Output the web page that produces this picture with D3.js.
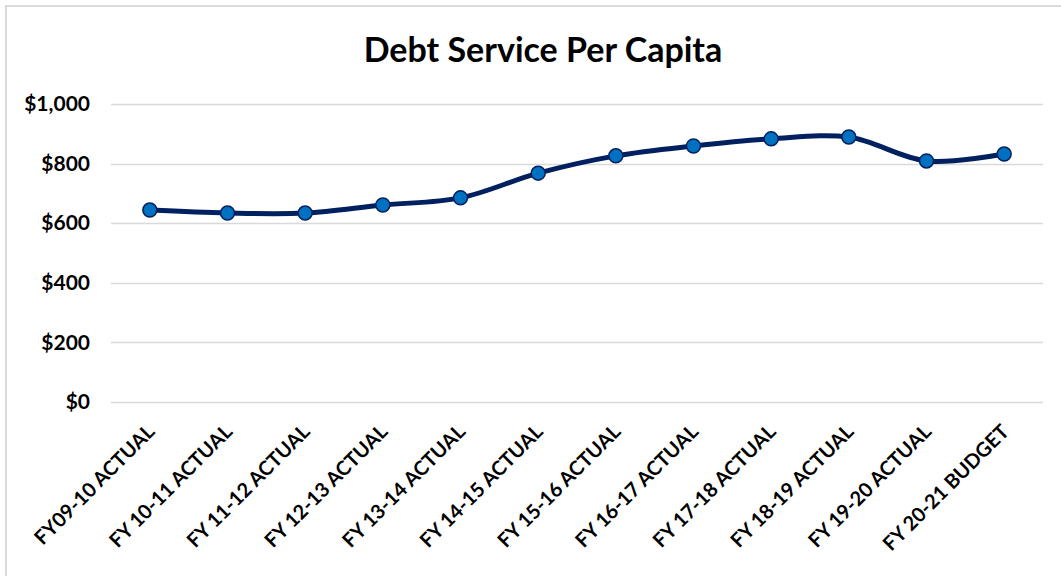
<!DOCTYPE html>
<html>
<head>
<meta charset="utf-8">
<script src="https://cdn.jsdelivr.net/npm/d3@7"></script>
<style>
  body { margin: 0; background: #fff; }
  text { font-family: Lato, "Open Sans", sans-serif; font-weight: bold; fill: #000; }
</style>
</head>
<body>
<script>
// chart data
var categories = ["FY09-10 ACTUAL", "FY 10-11 ACTUAL", "FY 11-12 ACTUAL", "FY 12-13 ACTUAL",
  "FY 13-14 ACTUAL", "FY 14-15 ACTUAL", "FY 15-16 ACTUAL", "FY 16-17 ACTUAL",
  "FY 17-18 ACTUAL", "FY 18-19 ACTUAL", "FY 19-20 ACTUAL", "FY 20-21 BUDGET"];
var values = [644, 634, 634, 661, 685, 768, 826, 859, 883, 889, 809, 832];
var yTicks = [0, 200, 400, 600, 800, 1000];
var title = "Debt Service Per Capita";

var width = 1061, height = 576;
var margin = {top: 104, right: 18, bottom: 174, left: 111};

var svg = d3.select("body").append("svg")
  .attr("width", width)
  .attr("height", height);

// outer chart border
svg.append("rect")
  .attr("x", 6).attr("y", 6)
  .attr("width", width + 10).attr("height", height + 10)
  .attr("fill", "none")
  .attr("stroke", "#d9d9d9")
  .attr("stroke-width", 2);

// title
svg.append("text")
  .attr("x", 543).attr("y", 62)
  .attr("text-anchor", "middle")
  .style("font-size", "34px")
  .text(title);

var x = d3.scaleBand()
  .domain(categories)
  .range([margin.left, width - margin.right]);

var y = d3.scaleLinear()
  .domain([0, 1000])
  .range([height - margin.bottom, margin.top]);

// gridlines
svg.append("g")
  .selectAll("line")
  .data(yTicks)
  .enter()
  .append("line")
  .attr("x1", margin.left).attr("x2", width - margin.right)
  .attr("y1", function(d) { return Math.round(y(d)) + 0.5; })
  .attr("y2", function(d) { return Math.round(y(d)) + 0.5; })
  .attr("stroke", "#d9d9d9")
  .attr("stroke-width", 1.5);

// y axis labels
var yAxis = d3.axisLeft(y)
  .tickValues(yTicks)
  .tickSize(0)
  .tickPadding(21)
  .tickFormat(function(d) { return "$" + d3.format(",")(d); });

svg.append("g")
  .attr("transform", "translate(" + margin.left + ",0)")
  .call(yAxis)
  .call(function(g) { g.select(".domain").remove(); })
  .selectAll("text")
  .style("font-size", "21px")
  .style("font-family", "Lato, 'Open Sans', sans-serif")
  .style("font-weight", "bold")
  .attr("fill", "#000");

// x axis labels, rotated
var xAxis = d3.axisBottom(x).tickSize(0).tickPadding(0);

svg.append("g")
  .attr("transform", "translate(0," + (height - margin.bottom) + ")")
  .call(xAxis)
  .call(function(g) { g.select(".domain").remove(); })
  .selectAll("text")
  .style("font-size", "20px")
  .style("font-family", "Lato, 'Open Sans', sans-serif")
  .style("font-weight", "bold")
  .attr("fill", "#000")
  .attr("text-anchor", "end")
  .attr("dy", null)
  .attr("y", 0)
  .attr("transform", "translate(6,31) rotate(-45)");

// line
var line = d3.line()
  .x(function(d, i) { return x(categories[i]) + x.bandwidth() / 2; })
  .y(function(d) { return y(d); })
  .curve(d3.curveCatmullRom);

svg.append("path")
  .datum(values)
  .attr("d", line)
  .attr("fill", "none")
  .attr("stroke", "#002060")
  .attr("stroke-width", 5)
  .attr("stroke-linejoin", "round");

// markers
svg.selectAll("circle.pt")
  .data(values)
  .enter()
  .append("circle")
  .attr("class", "pt")
  .attr("cx", function(d, i) { return x(categories[i]) + x.bandwidth() / 2; })
  .attr("cy", function(d) { return y(d); })
  .attr("r", 7)
  .attr("fill", "#0070c0")
  .attr("stroke", "#002060")
  .attr("stroke-width", 1.5);
</script>
</body>
</html>
